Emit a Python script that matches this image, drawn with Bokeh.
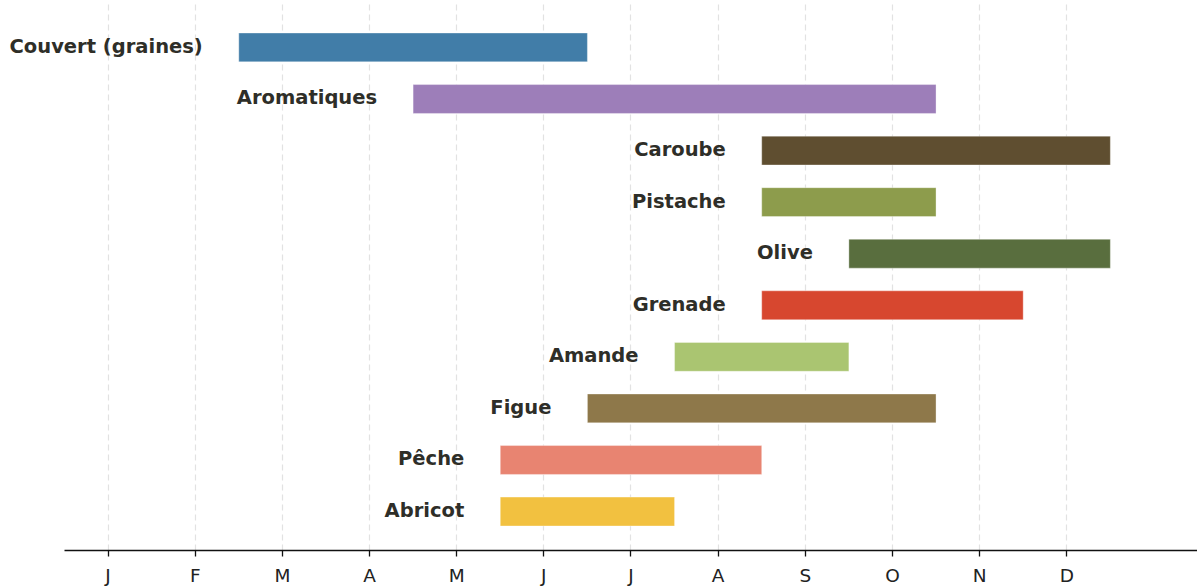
from bokeh.plotting import figure
from bokeh.models import ColumnDataSource, LabelSet, Range1d, FixedTicker
from bokeh.core.properties import value
from bokeh.embed import file_html
from bokeh.resources import INLINE

crops = ["Abricot", "Pêche", "Figue", "Amande", "Grenade", "Olive", "Pistache", "Caroube", "Aromatiques", "Couvert (graines)"]
starts = [4.5, 4.5, 5.5, 6.5, 7.5, 8.5, 7.5, 7.5, 3.5, 1.5]
ends = [6.5, 7.5, 9.5, 8.5, 10.5, 11.5, 9.5, 11.5, 9.5, 5.5]
colors = ["#f2c03c", "#e8826e", "#8c7546", "#a8c46e", "#d6432b", "#566b3a", "#8b9a48", "#5c4a2c", "#9b7bb8", "#3d7aa6"]
months = ["J", "F", "M", "A", "M", "J", "J", "A", "S", "O", "N", "D"]

src = ColumnDataSource(dict(y=list(range(len(crops))), start=starts, end=ends, color=colors, name=crops))

p = figure(width=1197, height=588, output_backend="svg", toolbar_location=None,
           x_range=Range1d(-1.234, 12.5), y_range=Range1d(-0.755, 9.91),
           min_border_left=0, min_border_right=0, min_border_top=0, min_border_bottom=37)
p.outline_line_color = None
p.background_fill_color = "white"

p.hbar(y="y", left="start", right="end", height=0.56, color="color", fill_alpha=0.98,
       line_color="white", line_alpha=0.35, line_width=1, source=src)

labels = LabelSet(x="start", y="y", text="name", source=src, x_offset=-36, y_offset=1,
                  text_align="right", text_baseline="middle", text_font=value("DejaVu Sans"),
                  text_font_style="bold", text_font_size=value("19.5px"), text_color="#2e2e28")
p.add_layout(labels)

p.yaxis.visible = False
p.ygrid.grid_line_color = None

p.xaxis.bounds = (-0.5, 12.5)
p.xaxis.ticker = FixedTicker(ticks=list(range(12)))
p.xaxis.major_label_overrides = {i: m for i, m in enumerate(months)}
p.xaxis.major_label_text_font = "DejaVu Sans"
p.xaxis.major_label_text_font_size = "18.5px"
p.xaxis.major_label_text_color = "#222222"
p.xaxis.axis_line_color = "#111111"
p.xaxis.axis_line_width = 1.6
p.xaxis.major_tick_line_color = "#111111"
p.xaxis.major_tick_line_width = 1.3
p.xaxis.major_tick_out = 6
p.xaxis.major_tick_in = 0
p.xaxis.minor_tick_line_color = None
p.xaxis.major_label_standoff = 8

p.xgrid.ticker = FixedTicker(ticks=list(range(12)))
p.xgrid.grid_line_color = "#e2e2e2"
p.xgrid.grid_line_dash = "6 4"
p.xgrid.grid_line_width = 1.2

open("out.html", "w").write(file_html(p, INLINE))
